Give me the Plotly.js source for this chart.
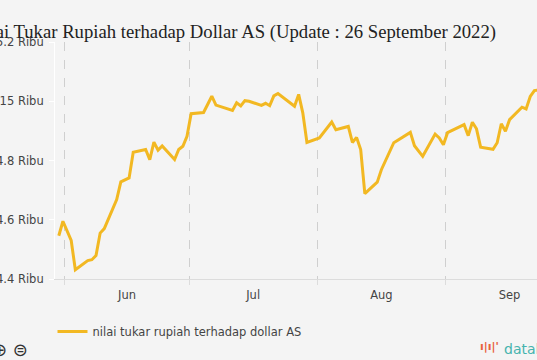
<!DOCTYPE html>
<html>
<head>
<meta charset="utf-8">
<script src="https://cdn.plot.ly/plotly-3.0.1.min.js"></script>
<style>
  html, body { margin: 0; padding: 0; width: 537px; height: 360px; overflow: hidden; background: #f4f4f4; }
  #chart { position: absolute; left: -30px; top: 0; width: 600px; height: 360px; }
</style>
</head>
<body>
<div id="chart"></div>
<script>
// Data (IDR per USD)
const dates = [
  '2022-05-30','2022-05-31','2022-06-02','2022-06-03','2022-06-06','2022-06-07','2022-06-08','2022-06-09','2022-06-10',
  '2022-06-13','2022-06-14','2022-06-16','2022-06-17','2022-06-20','2022-06-21','2022-06-22','2022-06-23','2022-06-24',
  '2022-06-27','2022-06-28','2022-06-29','2022-06-30','2022-07-01','2022-07-04','2022-07-06','2022-07-07',
  '2022-07-11','2022-07-12','2022-07-13','2022-07-14','2022-07-15','2022-07-18','2022-07-19','2022-07-20','2022-07-21','2022-07-22',
  '2022-07-26','2022-07-27','2022-07-28','2022-07-29','2022-08-01','2022-08-04','2022-08-05','2022-08-08','2022-08-09','2022-08-10',
  '2022-08-11','2022-08-12','2022-08-15','2022-08-16','2022-08-19','2022-08-23','2022-08-24','2022-08-26','2022-08-29','2022-08-30',
  '2022-08-31','2022-09-01','2022-09-05','2022-09-06','2022-09-07','2022-09-08','2022-09-09','2022-09-12','2022-09-13','2022-09-14',
  '2022-09-15','2022-09-16','2022-09-19','2022-09-20','2022-09-21','2022-09-22','2022-09-23'
];
const rates = [
  14546,14595,14530,14431,14462,14465,14479,14555,14570,
  14668,14728,14741,14828,14837,14803,14862,14835,14849,
  14803,14837,14848,14882,14958,14962,15017,14987,
  14969,14995,14984,15002,15000,14986,14993,14985,15018,15026,
  14983,15023,14961,14861,14876,14930,14904,14915,14861,14878,
  14837,14688,14727,14769,14860,14895,14850,14814,14889,14876,
  14853,14894,14921,14884,14929,14907,14845,14838,14860,14924,
  14899,14938,14980,14974,15016,15036,15038
];
const seriesName = 'nilai tukar rupiah terhadap dollar AS';
const yTickVals = [14400, 14600, 14800, 15000, 15200];
const yTickText = ['14.4 Ribu', '14.6 Ribu', '14.8 Ribu', '15 Ribu', '15.2 Ribu'];
const titleText = 'Nilai Tukar Rupiah terhadap Dollar AS (Update : 26 September 2022)';

const bg = '#f4f4f4';
const tickFont = { family: 'DejaVu Sans, Verdana, sans-serif', size: 11.5, color: '#444' };

const trace = {
  type: 'scatter',
  mode: 'lines',
  x: dates.map(d => d + ' 12:00'),
  y: rates,
  name: seriesName,
  line: { color: '#f2b822', width: 3 },
  hoverinfo: 'x+y'
};

const layout = {
  width: 600,
  height: 360,
  paper_bgcolor: bg,
  plot_bgcolor: bg,
  margin: { l: 85, r: 16.5, t: 42, b: 80.7, pad: 0 },
  title: {
    text: titleText,
    font: { family: 'Liberation Serif, Times New Roman, serif', size: 18.7, color: '#222' },
    xref: 'container', x: (496 + 30) / 600, xanchor: 'right',
    yref: 'container', y: 1 - 31 / 360, yanchor: 'middle'
  },
  xaxis: {
    type: 'date',
    range: ['2022-05-29 14:00', '2022-09-27 00:00'],
    dtick: 'M1',
    tick0: '2022-06-01',
    tickformat: '%b',
    ticklabelmode: 'period',
    showgrid: true,
    gridcolor: '#cfcfcf',
    griddash: 'dash',
    gridwidth: 1,
    showline: true,
    linecolor: '#dcdcdc',
    linewidth: 1,
    ticks: 'outside',
    ticklen: 5,
    tickcolor: '#dcdcdc',
    tickfont: tickFont,
    zeroline: false,
    fixedrange: true
  },
  yaxis: {
    range: [14400, 15200],
    tickvals: yTickVals,
    ticktext: yTickText,
    showgrid: false,
    zeroline: false,
    showline: true,
    linecolor: '#ffffff',
    linewidth: 1,
    ticks: 'outside',
    ticklen: 5,
    tickcolor: '#ffffff',
    tickfont: tickFont,
    ticklabelstandoff: 3,
    fixedrange: true
  },
  showlegend: true,
  legend: {
    orientation: 'h',
    x: -0.005, xanchor: 'left',
    y: -0.222, yanchor: 'middle',
    bgcolor: 'rgba(0,0,0,0)',
    font: { family: 'DejaVu Sans, Verdana, sans-serif', size: 11.5, color: '#444' }
  },
  annotations: [
    {
      xref: 'paper', yref: 'paper',
      x: (502 + 30 - 85) / 498.5, y: (279.3 - 349) / 237.3,
      xanchor: 'left', yanchor: 'middle', showarrow: false,
      text: 'datalab',
      font: { family: 'DejaVu Sans, sans-serif', size: 14, color: '#45b3ae' }
    },
    {
      xref: 'paper', yref: 'paper',
      x: (501 + 30 - 85) / 498.5, y: (279.3 - 347) / 237.3,
      xanchor: 'right', yanchor: 'middle', showarrow: false,
      text: '<b>\u0131|\u0131|\'</b>',
      font: { family: 'DejaVu Sans, sans-serif', size: 11, color: '#e8603c' }
    },
    {
      xref: 'paper', yref: 'paper',
      x: (-10 + 30 - 85) / 498.5, y: (279.3 - 350) / 237.3,
      xanchor: 'left', yanchor: 'middle', showarrow: false,
      text: '\u2295 \u229C',
      font: { family: 'DejaVu Sans, sans-serif', size: 18, color: '#333' }
    }
  ]
};

Plotly.newPlot('chart', [trace], layout, { displayModeBar: false, staticPlot: false, responsive: false });
</script>
</body>
</html>
